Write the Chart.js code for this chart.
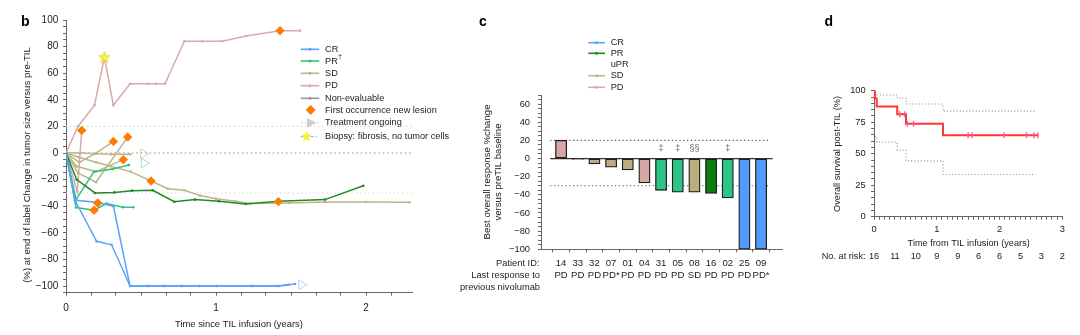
<!DOCTYPE html>
<html>
<head>
<meta charset="utf-8">
<script src="https://cdn.jsdelivr.net/npm/chart.js@4.4.1/dist/chart.umd.min.js"></script>
<style>
  html, body { margin: 0; padding: 0; background: #fff; }
  #wrap { position: relative; width: 1080px; height: 335px; overflow: hidden; }
  #wrap canvas { position: absolute; left: 0; top: 0; }
</style>
</head>
<body>
<div id="wrap">
  <canvas id="tumour" width="1080" height="335"></canvas>
  <canvas id="waterfall" width="1080" height="335"></canvas>
  <canvas id="survival" width="1080" height="335"></canvas>
</div>
<script>
// ---------- Panel b: change in tumour size over time (years, %) ----------
const crA_t = [0, 0.06, 0.204, 0.316, 0.427, 0.544, 0.656, 0.771, 0.889, 1.004, 1.242, 1.416, 1.482];
const crA_v = [0, -35.5, -37, -40, -100, -100, -100, -100, -100, -100, -100, -100, -99];
const crB_t = [0, 0.06, 0.204, 0.304, 0.427, 0.544, 0.656, 0.771, 0.889, 1.004, 1.242, 1.416, 1.527];
const crB_v = [0, -35.5, -66.4, -69, -100, -100, -100, -100, -100, -100, -100, -100, -98.5];
const prDark_t = [0, 0.071, 0.193, 0.322, 0.44, 0.578, 0.722, 0.86, 1.02, 1.198, 1.416, 1.727, 1.982];
const prDark_v = [0, -20, -30, -29.6, -28.3, -28, -36.6, -35, -36.3, -38.3, -36.3, -35, -24.6];
const prA_t = [0, 0.067, 0.187, 0.31, 0.42];
const prA_v = [0, -35, -14, -12, -9];
const prB_t = [0, 0.067, 0.187, 0.27, 0.38, 0.449];
const prB_v = [0, -41, -43, -38, -40.8, -40.8];
const sdA_t = [0, 0.08, 0.2, 0.3, 0.43, 0.567, 0.678, 0.789, 0.893, 1.0, 1.13, 1.227, 1.49, 1.727, 2.0, 2.29];
const sdA_v = [0, -3, -7, -10, -14, -21, -26.8, -28, -32, -34.4, -36.3, -38, -37.6, -36.8, -36.8, -37];
const sdB_t = [0, 0.1, 0.2, 0.3, 0.427];
const sdB_v = [0, 0, -0.5, -1, -1];
const sdC_t = [0, 0.09, 0.2, 0.316];
const sdC_v = [0, -7, 0, 8.7];
const sdD_t = [0, 0.08, 0.2, 0.411];
const sdD_v = [0, -15, -22, 12];
const sdE_t = [0, 0.07, 0.2, 0.382];
const sdE_v = [0, -10, -14, -5];
const pdA_t = [0, 0.08, 0.19, 0.256, 0.316, 0.427, 0.549, 0.6, 0.66, 0.789, 0.909, 1.042, 1.2, 1.427, 1.56];
const pdA_v = [0, 20, 36, 72, 36, 52, 52, 52, 52, 84, 84, 84, 88, 92, 92];
const pdB_t = [0, 0.075, 0.105];
const pdB_v = [0, -29, 17];
const newLesion_t = [0.105, 0.316, 0.411, 0.382, 0.567, 0.211, 0.187, 1.416, 1.427];
const newLesion_v = [17, 8.7, 12, -5, -21, -37.6, -43, -36.5, 92];
const biopsy_t = [0.256];
const biopsy_v = [72];
const ongoing_t = [0.515, 0.52, 1.57, 2.36];
const ongoing_v = [-0.5, -7.5, -99, -37];
const ongoing_group = ['SD', 'PR', 'CR', 'SD'];
const thresholdLines = [20, -30];

// ---------- Panel c: best overall response per patient ----------
const patientIds = ['14', '33', '32', '07', '01', '04', '31', '05', '08', '16', '02', '25', '09'];
const nivolumabResponse = ['PD', 'PD', 'PD', 'PD*', 'PD', 'PD', 'PD', 'PD', 'SD', 'PD', 'PD', 'PD', 'PD*'];
const bestChange = [20, -1, -6, -9.5, -12.5, -27, -35, -37, -37, -38.5, -43.5, -100, -100];
const bestCategory = ['PD', 'SD', 'SD', 'SD', 'SD', 'PD', 'uPR', 'uPR', 'SD', 'PR', 'uPR', 'CR', 'CR'];
const footnoteMarks = ['', '', '', '', '', '', '\u2021', '\u2021', '\u00a7\u00a7', '', '\u2021', '', ''];

// ---------- Panel d: overall survival (Kaplan–Meier) ----------
const km_t = [0, 0.016, 0.043, 0.37, 0.51, 1.1, 2.62];
const km_s = [100, 93.75, 87.5, 81.25, 73.86, 64.63, 64.63];
const ciHigh_t = [0.043, 0.37, 0.51, 1.1, 2.57];
const ciHigh_s = [96.6, 94, 89.5, 83.8, 83.8];
const ciLow_t = [0.016, 0.043, 0.37, 0.51, 1.1, 2.57];
const ciLow_s = [63.8, 59.3, 52.8, 44.3, 33.5, 33.5];
const censor_t = [0.41, 0.49, 0.53, 0.63, 1.5, 1.56, 2.07, 2.43, 2.55, 2.61];
const censor_s = [81.25, 81.25, 73.86, 73.86, 64.63, 64.63, 64.63, 64.63, 64.63, 64.63];
const riskTimes = [0, 1/3, 2/3, 1, 4/3, 5/3, 2, 7/3, 8/3, 3];
const atRisk = [16, 11, 10, 9, 9, 6, 6, 5, 3, 2];

// ---------- shared styling ----------
const FONT = "'Liberation Sans', Arial, Helvetica, sans-serif";
const COL = {
  CR: '#5ba2ff', PR: '#1f8c22', PRdag: '#2fc27c', uPR: '#2dc486', SD: '#c0b48a',
  PD: '#d8aaaa', NE: '#999999', lesion: '#ff7a00', km: '#ff3434', censor: '#ff55aa'
};
const BAR = { CR: '#4f9dff', PR: '#0b7d0b', uPR: '#2ec486', SD: '#bcae7c', PD: '#d7a7a6' };
const ONGOING = { SD: 'rgba(190,178,130,0.55)', PR: 'rgba(47,194,124,0.45)', CR: 'rgba(91,162,255,0.45)' };

Chart.defaults.font.family = FONT;
Chart.defaults.color = '#222';
Chart.defaults.animation = false;
Chart.defaults.events = [];
Chart.defaults.plugins.legend.display = false;
Chart.defaults.plugins.tooltip.enabled = false;

const minus = v => (v < 0 ? '\u2212' : '') + Math.abs(Math.round(v));
const whole = v => Math.abs(v - Math.round(v)) < 1e-6;

function stepValues(min, max, step) {
  const out = [];
  for (let i = 0; ; i++) {
    const v = min + i * step;
    if (v > max + 1e-9) break;
    out.push(+v.toFixed(6));
  }
  return out;
}

function axis({ pos, min, max, values, label, pad, size, fit, lineHeight }) {
  return {
    type: 'linear', position: pos, min, max,
    afterFit: s => { if (s.isHorizontal()) s.height = fit; else s.width = fit; },
    afterBuildTicks: s => { s.ticks = values.map(v => ({ value: v })); },
    ticks: {
      autoSkip: false, maxRotation: 0, minRotation: 0, padding: pad, color: '#222',
      font: lineHeight ? { size, lineHeight } : { size },
      callback: v => label(v)
    },
    grid: { drawOnChartArea: false, drawTicks: true, tickLength: 3, tickColor: '#666', color: '#666', tickWidth: 1 },
    border: { display: true, color: '#666', width: 1 }
  };
}

function text(ctx, s, x, y, o = {}) {
  ctx.save();
  ctx.font = `${o.weight || 'normal'} ${o.size || 9.3}px ${FONT}`;
  ctx.fillStyle = o.color || '#222';
  ctx.textAlign = o.align || 'left';
  ctx.textBaseline = o.base || 'middle';
  ctx.translate(x, y);
  if (o.rot) ctx.rotate(o.rot);
  ctx.fillText(s, 0, 0);
  ctx.restore();
}

function starPath(ctx, cx, cy, R, r) {
  ctx.beginPath();
  for (let i = 0; i < 10; i++) {
    const a = -Math.PI / 2 + i * Math.PI / 5;
    const rad = i % 2 ? r : R;
    ctx.lineTo(cx + rad * Math.cos(a), cy + rad * Math.sin(a));
  }
  ctx.closePath();
}

const starImg = document.createElement('canvas');
starImg.width = 14; starImg.height = 14;
(() => {
  const c = starImg.getContext('2d');
  starPath(c, 7, 7.4, 6.2, 2.6);
  c.fillStyle = '#f4f23c'; c.fill();
  c.strokeStyle = '#d6d21c'; c.lineWidth = 0.6; c.stroke();
})();

const pts = (t, v) => t.map((x, i) => ({ x, y: v[i] }));

function series(t, v, color) {
  return {
    type: 'line', data: pts(t, v), borderColor: color, backgroundColor: color,
    borderWidth: 1.5, pointRadius: 1.3, pointBorderWidth: 0, pointBackgroundColor: color,
    tension: 0, order: 5
  };
}

function refLine(y, x0, x1, color, dash, width = 1) {
  return {
    type: 'line', data: [{ x: x0, y }, { x: x1, y }], borderColor: color, borderWidth: width,
    borderDash: dash, pointRadius: 0, order: 10
  };
}

// ---------- panel b ----------
const tumourDecor = {
  id: 'tumourDecor',
  afterDraw(chart) {
    const ctx = chart.ctx;
    text(ctx, 'b', 21, 26, { weight: 'bold', size: 14, base: 'alphabetic', color: '#000' });
    text(ctx, '(%) at end of label Change in tumor size versus pre-TIL', 27, 165,
      { size: 9.6, align: 'center', rot: -Math.PI / 2 });
    text(ctx, 'Time since TIL infusion (years)', 239, 324, { size: 9.4, align: 'center' });

    const lx0 = 300.7, lx1 = 319.3, tx = 325;
    const rows = [
      ['line', COL.CR, 'CR'], ['line', COL.PRdag, 'PR'], ['line', COL.SD, 'SD'],
      ['line', COL.PD, 'PD'], ['line', COL.NE, 'Non-evaluable'],
      ['diamond', COL.lesion, 'First occurrence new lesion'],
      ['triangle', '#cfcfcf', 'Treatment ongoing'],
      ['star', '#f4f23c', 'Biopsy: fibrosis, no tumor cells']
    ];
    const ys = [49.3, 61, 73.3, 85.7, 98.3, 110, 122.7, 136.7];
    rows.forEach(([kind, color, label], i) => {
      const y = ys[i];
      ctx.save();
      if (kind === 'line') {
        ctx.strokeStyle = color; ctx.lineWidth = 1.6;
        ctx.beginPath(); ctx.moveTo(lx0, y); ctx.lineTo(lx1, y); ctx.stroke();
        ctx.fillStyle = color; ctx.beginPath(); ctx.arc((lx0 + lx1) / 2, y, 1.5, 0, Math.PI * 2); ctx.fill();
      } else if (kind === 'diamond') {
        const cx = 310.7, r = 5;
        ctx.fillStyle = color; ctx.beginPath();
        ctx.moveTo(cx, y - r); ctx.lineTo(cx + r, y); ctx.lineTo(cx, y + r); ctx.lineTo(cx - r, y);
        ctx.closePath(); ctx.fill();
      } else if (kind === 'triangle') {
        ctx.strokeStyle = '#d6d6d6'; ctx.lineWidth = 1; ctx.setLineDash([2, 2]);
        ctx.beginPath(); ctx.moveTo(lx0, y); ctx.lineTo(lx1, y); ctx.stroke();
        ctx.setLineDash([]);
        ctx.fillStyle = color; ctx.beginPath();
        ctx.moveTo(307, y - 5); ctx.lineTo(316.5, y); ctx.lineTo(307, y + 5); ctx.closePath(); ctx.fill();
      } else {
        ctx.strokeStyle = '#8fc0ff'; ctx.lineWidth = 1.2; ctx.setLineDash([3, 2]);
        ctx.beginPath(); ctx.moveTo(lx0, y); ctx.lineTo(316.7, y); ctx.stroke();
        ctx.setLineDash([]);
        starPath(ctx, 306.7, y, 6, 2.6);
        ctx.fillStyle = color; ctx.fill();
      }
      ctx.restore();
      text(ctx, label, tx, y, { size: 9.2 });
      if (label === 'PR') text(ctx, '\u2020', tx + 13.2, y - 4, { size: 6.5 });
    });
  }
};

const tumourSets = [
  { type: 'scatter', data: pts(newLesion_t, newLesion_v), pointStyle: 'rectRot', pointRadius: 4.2,
    backgroundColor: COL.lesion, borderColor: COL.lesion, order: 0, clip: false },
  { type: 'scatter', data: pts(biopsy_t, biopsy_v), pointStyle: starImg, order: 0, clip: false },
  { type: 'scatter', data: pts(ongoing_t, ongoing_v), pointStyle: 'triangle', rotation: 90, pointRadius: 5.5,
    backgroundColor: 'rgba(255,255,255,0)', borderColor: ongoing_group.map(g => ONGOING[g]),
    borderWidth: 1, order: 1, clip: false },
  series(crA_t, crA_v, COL.CR), series(crB_t, crB_v, COL.CR),
  series(prDark_t, prDark_v, COL.PR),
  series(prA_t, prA_v, COL.PRdag), series(prB_t, prB_v, COL.PRdag),
  series(sdA_t, sdA_v, COL.SD), series(sdB_t, sdB_v, COL.SD), series(sdC_t, sdC_v, COL.SD),
  series(sdD_t, sdD_v, COL.SD), series(sdE_t, sdE_v, COL.SD),
  series(pdA_t, pdA_v, COL.PD), series(pdB_t, pdB_v, COL.PD),
  refLine(0, 0, 2.31, '#8a8a8a', [1.4, 3], 1.2),
  ...thresholdLines.map(y => refLine(y, 0, 2.31, '#cfcfcf', [1.2, 3], 1.1))
];

new Chart(document.getElementById('tumour'), {
  type: 'line',
  data: { datasets: tumourSets },
  options: {
    responsive: false,
    layout: { autoPadding: false, padding: { left: 26, top: 20, right: 1080 - 412.5, bottom: 335 - 292.7 - 30 } },
    scales: {
      x: axis({ pos: 'bottom', min: 0, max: 2.31, values: stepValues(0, 2.31, 1 / 6),
        label: v => whole(v) ? String(Math.round(v)) : '', pad: 6.6, size: 10, fit: 30 }),
      y: axis({ pos: 'left', min: -105, max: 100, values: stepValues(-105, 100, 5),
        label: v => Math.round(v) % 20 === 0 ? minus(v) : '', pad: 4.7, size: 10, fit: 40 })
    }
  },
  plugins: [tumourDecor]
});

// ---------- panel c ----------
const waterfallDecor = {
  id: 'waterfallDecor',
  afterDraw(chart) {
    const ctx = chart.ctx;
    const xs = chart.scales.x;
    text(ctx, 'c', 479, 26, { weight: 'bold', size: 14, base: 'alphabetic', color: '#000' });
    text(ctx, 'Best overall response %change', 487, 172, { size: 9.6, align: 'center', rot: -Math.PI / 2 });
    text(ctx, 'versus preTIL baseline', 498.5, 172, { size: 9.6, align: 'center', rot: -Math.PI / 2 });
    text(ctx, 'Patient ID:', 539.5, 263, { size: 9.3, align: 'right' });
    text(ctx, 'Last response to', 540, 275, { size: 9.3, align: 'right' });
    text(ctx, 'previous nivolumab', 540, 287, { size: 9.3, align: 'right' });
    footnoteMarks.forEach((m, i) => {
      if (m) text(ctx, m, xs.getPixelForValue(i), 149, { size: 9, align: 'center', color: '#666' });
    });
    const legend = [['CR', COL.CR], ['PR', COL.PR], ['uPR', null], ['SD', COL.SD], ['PD', COL.PD]];
    const ys = [42.7, 53.3, 64.3, 75.7, 87.3];
    legend.forEach(([label, color], i) => {
      const y = ys[i];
      if (color) {
        ctx.save();
        ctx.strokeStyle = color; ctx.lineWidth = 1.6;
        ctx.beginPath(); ctx.moveTo(588.3, y); ctx.lineTo(605, y); ctx.stroke();
        ctx.fillStyle = color; ctx.beginPath(); ctx.arc(596.7, y, 1.5, 0, Math.PI * 2); ctx.fill();
        ctx.restore();
      }
      text(ctx, label, 610.7, y, { size: 9.2 });
    });
  }
};

new Chart(document.getElementById('waterfall'), {
  type: 'bar',
  data: {
    datasets: [
      { type: 'bar', data: bestChange.map((v, i) => ({ x: i, y: v })),
        backgroundColor: bestCategory.map(c => BAR[c]), borderColor: '#1e1e1e', borderWidth: 1.3,
        borderSkipped: false, barThickness: 11.3, order: 2 },
      refLine(0, -0.65, 12.7, '#333', [], 1.2),
      ...thresholdLines.map(y => refLine(y, -0.65, 12.55, '#555', [1.2, 2.6], 1.1))
    ]
  },
  options: {
    responsive: false,
    layout: { autoPadding: false, padding: { left: 501, top: 95, right: 1080 - 782, bottom: 335 - 249.3 - 30 } },
    scales: {
      x: axis({ pos: 'bottom', min: -0.65, max: 12.7, values: patientIds.map((_, i) => i),
        label: v => [patientIds[Math.round(v)], nivolumabResponse[Math.round(v)]],
        pad: 4.7, size: 9.6, fit: 30, lineHeight: '12px' }),
      y: axis({ pos: 'left', min: -100, max: 70, values: stepValues(-100, 70, 5),
        label: v => Math.round(v) % 20 === 0 ? minus(v) : '', pad: 8, size: 9.3, fit: 40 })
    }
  },
  plugins: [waterfallDecor]
});

// ---------- panel d ----------
const survivalDecor = {
  id: 'survivalDecor',
  afterDraw(chart) {
    const ctx = chart.ctx;
    const xs = chart.scales.x;
    text(ctx, 'd', 824.5, 26, { weight: 'bold', size: 14, base: 'alphabetic', color: '#000' });
    text(ctx, 'Overall survival post-TIL (%)', 837, 154, { size: 9.2, align: 'center', rot: -Math.PI / 2 });
    text(ctx, 'Time from TIL infusion (years)', 968.7, 243, { size: 9.2, align: 'center' });
    text(ctx, 'No. at risk:', 821.7, 256.7, { size: 9.2 });
    atRisk.forEach((n, i) => text(ctx, String(n), xs.getPixelForValue(riskTimes[i]), 256.7, { size: 9.2, align: 'center' }));
  }
};

new Chart(document.getElementById('survival'), {
  type: 'line',
  data: {
    datasets: [
      { type: 'scatter', data: pts(censor_t, censor_s), pointStyle: 'line', rotation: 90, pointRadius: 3,
        borderColor: COL.censor, borderWidth: 1.4, order: 0, clip: false },
      { data: pts(km_t, km_s), stepped: 'before', borderColor: COL.km, borderWidth: 2, pointRadius: 0, order: 1 },
      { data: pts(ciHigh_t, ciHigh_s), stepped: 'before', borderColor: '#8c8c8c', borderWidth: 1.1,
        borderDash: [1, 2.2], pointRadius: 0, order: 2 },
      { data: pts(ciLow_t, ciLow_s), stepped: 'before', borderColor: '#8c8c8c', borderWidth: 1.1,
        borderDash: [1, 2.2], pointRadius: 0, order: 2 }
    ]
  },
  options: {
    responsive: false,
    layout: { autoPadding: false, padding: { left: 834, top: 90.7, right: 1080 - 1062.3, bottom: 335 - 216.7 - 30 } },
    scales: {
      x: axis({ pos: 'bottom', min: 0, max: 3, values: stepValues(0, 3, 1 / 12),
        label: v => whole(v) ? String(Math.round(v)) : '', pad: 3.9, size: 9.3, fit: 30 }),
      y: axis({ pos: 'left', min: 0, max: 100, values: stepValues(0, 100, 5),
        label: v => Math.round(v) % 25 === 0 ? String(Math.round(v)) : '', pad: 5.3, size: 9.3, fit: 40 })
    }
  },
  plugins: [survivalDecor]
});
</script>
</body>
</html>
